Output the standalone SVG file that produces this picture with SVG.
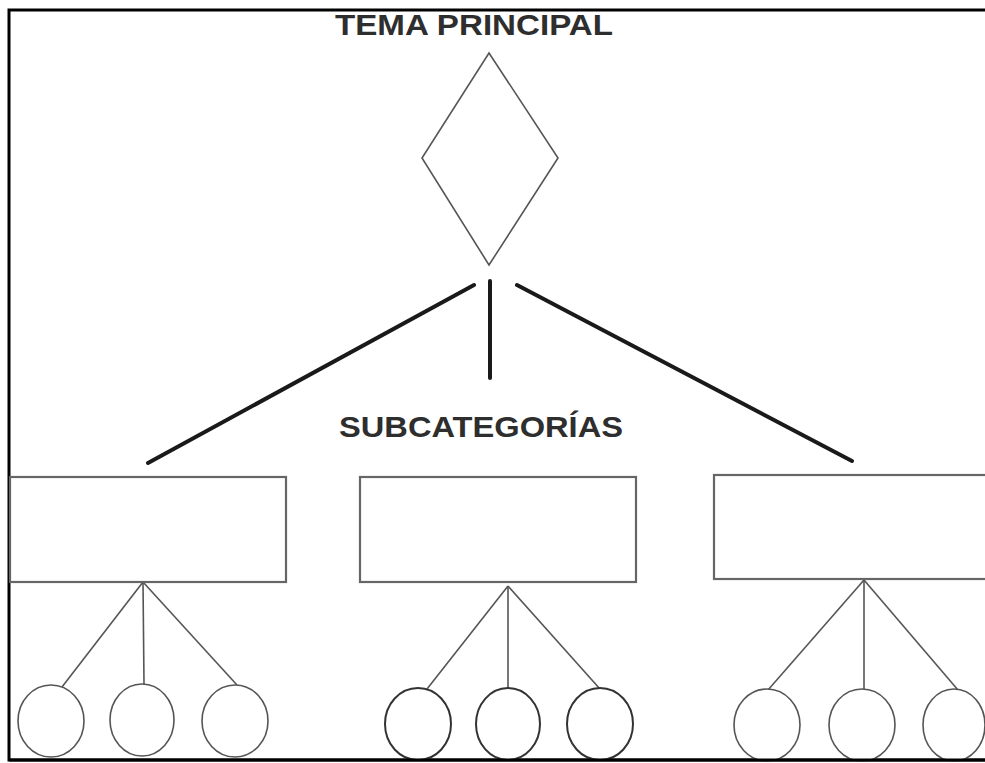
<svg xmlns="http://www.w3.org/2000/svg" width="985" height="763" viewBox="0 0 985 763">
  <style>
    .title { font-family: "Liberation Sans", Arial, sans-serif; font-weight: bold; fill: #2e2e2e; }
    .shape { fill: #ffffff; stroke: #555555; stroke-width: 1.6; }
    .box { fill: #ffffff; stroke: #666666; stroke-width: 2.2; }
    .leaf { fill: #ffffff; stroke: #555555; stroke-width: 1.6; }
    .leafdark { fill: #ffffff; stroke: #333333; stroke-width: 2; }
    .thick { stroke: #1a1a1a; stroke-width: 4; stroke-linecap: round; fill: none; }
    .thin { stroke: #555555; stroke-width: 1.6; fill: none; }
  </style>
  <rect x="0" y="0" width="985" height="763" fill="#ffffff"/>
  <path id="frame" d="M990,10 H9 V760 H990" fill="none" stroke="#000000" stroke-width="3"/>

  <g id="label-main">
    <text class="title" x="335" y="35" font-size="30" textLength="278" lengthAdjust="spacingAndGlyphs">TEMA PRINCIPAL</text>
  </g>
  <g id="label-sub">
    <text class="title" x="339" y="437" font-size="30" textLength="284" lengthAdjust="spacingAndGlyphs">SUBCATEGORÍAS</text>
  </g>

  <g id="connectors">
    <line class="thick" x1="148" y1="463" x2="474" y2="285"/>
    <line class="thick" x1="490" y1="281" x2="490" y2="378"/>
    <line class="thick" x1="517" y1="285" x2="852" y2="461"/>

    <line class="thin" x1="143" y1="582" x2="62" y2="687"/>
    <line class="thin" x1="143" y1="582" x2="144" y2="684"/>
    <line class="thin" x1="143" y1="582" x2="237" y2="685"/>

    <line class="thin" x1="508" y1="586" x2="427" y2="689"/>
    <line class="thin" x1="508" y1="586" x2="508" y2="689"/>
    <line class="thin" x1="508" y1="586" x2="600" y2="689"/>

    <line class="thin" x1="864" y1="580" x2="768" y2="690"/>
    <line class="thin" x1="864" y1="580" x2="864" y2="690"/>
    <line class="thin" x1="864" y1="580" x2="958" y2="690"/>
  </g>

  <g id="main-topic">
    <polygon class="shape" points="489,53 558,158 489,265 422,158"/>
  </g>

  <g id="sub-left">
    <rect class="box" x="10" y="477" width="276" height="105"/>
  </g>
  <g id="sub-middle">
    <rect class="box" x="360" y="477" width="276" height="105"/>
  </g>
  <g id="sub-right">
    <rect class="box" x="714" y="475" width="280" height="104"/>
  </g>

  <g id="leaf-l1"><ellipse class="leaf" cx="51" cy="721" rx="33" ry="36"/></g>
  <g id="leaf-l2"><ellipse class="leaf" cx="142" cy="720" rx="32" ry="36"/></g>
  <g id="leaf-l3"><ellipse class="leaf" cx="235" cy="721" rx="33" ry="36"/></g>

  <g id="leaf-m1"><ellipse class="leafdark" cx="418" cy="724" rx="33" ry="36"/></g>
  <g id="leaf-m2"><ellipse class="leafdark" cx="508" cy="724" rx="32" ry="36"/></g>
  <g id="leaf-m3"><ellipse class="leafdark" cx="600" cy="724" rx="33" ry="36"/></g>

  <g id="leaf-r1"><ellipse class="leaf" cx="767" cy="725" rx="33" ry="36"/></g>
  <g id="leaf-r2"><ellipse class="leaf" cx="862" cy="725" rx="33" ry="36"/></g>
  <g id="leaf-r3"><ellipse class="leaf" cx="954" cy="725" rx="31" ry="36"/></g>

  <path d="M990,760 H9" fill="none" stroke="#000000" stroke-width="3"/>
</svg>
